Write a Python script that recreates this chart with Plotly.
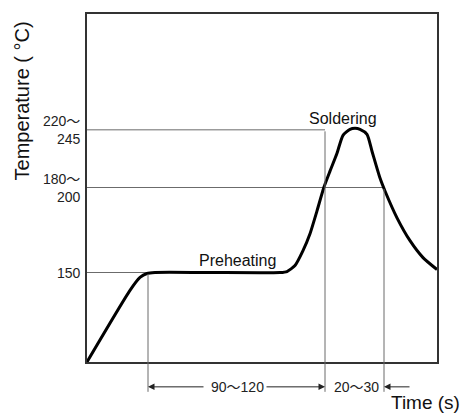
import plotly.graph_objects as go

# reflow profile, schematic chart units (time, temperature level)
profile_time = [0, 43, 53, 60, 68, 120, 193, 200, 208, 216, 223, 230, 237, 243, 250, 256,
                263, 268, 273, 280, 285, 293, 298, 310, 323, 336, 350]
profile_temp = [0, 72, 85, 89, 90, 90, 90, 91, 97, 112, 129, 152, 176, 192, 210, 228,
                234, 235, 234, 229, 212, 185, 172, 145, 122, 105, 93]

# temperature levels (label, chart level, where the guide line stops)
level_labels = ["150", "180〜<br>200", "220〜<br>245"]
level_values = [90, 175.5, 233.5]
level_ends = [61, 297, 238]

# time marks for the dimension row
time_marks = [61, 238, 297]
time_labels = ["90〜120", "20〜30"]

FONT = "Liberation Sans, Arial, Noto Sans CJK JP, sans-serif"
GUIDE = "#6b6b6b"
SPAN = 350  # axis span in chart units (1 unit = 1 px)
DIM_Y = -25 / SPAN  # dimension row, paper units

fig = go.Figure()

for lev, end in zip(level_values, level_ends):
    fig.add_trace(go.Scatter(x=[0, end], y=[lev, lev], mode="lines",
                             line=dict(color=GUIDE, width=1), hoverinfo="skip"))

fig.add_trace(go.Scatter(x=profile_time, y=profile_temp, mode="lines",
                         line=dict(color="black", width=3, shape="spline", smoothing=0.6),
                         hoverinfo="skip"))

# vertical guides running below the frame
for tx, lev in zip(time_marks, [level_values[0], level_values[2], level_values[1]]):
    fig.add_annotation(x=tx, y=-30, ax=tx, ay=lev, xref="x", yref="y",
                       axref="x", ayref="y", text="", showarrow=True, arrowhead=0,
                       arrowwidth=1, arrowcolor=GUIDE, standoff=0, startstandoff=0)

# dimension arrows (tail offset in px from the head)
arrows = [(118, time_marks[0]), (178, time_marks[1]), (324, time_marks[2])]
for tail, head in arrows:
    fig.add_annotation(x=head, y=DIM_Y, xref="x", yref="paper", ax=tail - head, ay=0,
                       text="", showarrow=True, arrowhead=2, arrowsize=1.3, arrowwidth=1,
                       arrowcolor="#222", standoff=0, startstandoff=0)

fig.add_annotation(x=(time_marks[0] + time_marks[1]) / 2 + 0.5, y=DIM_Y, yref="paper",
                   text=time_labels[0], showarrow=False, yanchor="middle",
                   font=dict(size=14, color="#222"))
fig.add_annotation(x=(time_marks[1] + time_marks[2]) / 2 + 2, y=DIM_Y, yref="paper",
                   text=time_labels[1], showarrow=False, yanchor="middle",
                   font=dict(size=14, color="#222"))

for lab, lev in zip(level_labels, level_values):
    fig.add_annotation(x=0, y=lev, text=lab, showarrow=False, xanchor="right",
                       yanchor="middle", align="right", xshift=-4,
                       font=dict(size=14, color="#222"))

fig.add_annotation(x=150, y=102, text="Preheating", showarrow=False,
                   font=dict(size=16, color="#111"))
fig.add_annotation(x=256, y=245, text="Soldering", showarrow=False,
                   font=dict(size=16, color="#111"))
fig.add_annotation(x=338, y=-41 / SPAN, yref="paper", text="Time (s)", showarrow=False,
                   xanchor="center", yanchor="middle", font=dict(size=19, color="#111"))
fig.add_annotation(x=-65 / SPAN, y=262 / SPAN, xref="paper", yref="paper",
                   text="Temperature ( °C)", showarrow=False, textangle=-90,
                   xanchor="center", yanchor="middle", font=dict(size=20, color="#111"))

# page body adds an 8px offset, so the figure is drawn 8px smaller
fig.update_layout(
    width=462, height=406,
    margin=dict(l=79, r=33, t=4, b=52),
    paper_bgcolor="white", plot_bgcolor="white",
    showlegend=False,
    font=dict(family=FONT, color="#111"),
)
fig.update_xaxes(range=[0, SPAN], showline=True, mirror=True, linecolor="#333", linewidth=2,
                 showgrid=False, zeroline=False, showticklabels=False, ticks="")
fig.update_yaxes(range=[0, SPAN], showline=True, mirror=True, linecolor="#333", linewidth=2,
                 showgrid=False, zeroline=False, showticklabels=False, ticks="")

fig.write_html("out.html")
